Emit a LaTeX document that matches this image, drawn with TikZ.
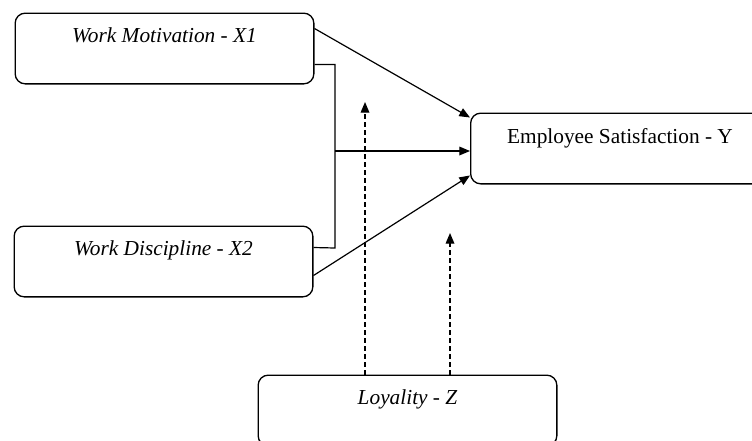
\documentclass[tikz,border=0pt]{standalone}
\usepackage{fontspec}
\setmainfont{Liberation Serif}
\usetikzlibrary{arrows.meta,calc}
\tikzset{
  box/.style={draw,line width=1pt,rounded corners=7.5pt,minimum width=224pt,minimum height=53pt,inner sep=0pt},
  lbl/.style={font=\fontsize{16}{18}\selectfont,inner sep=0pt,anchor=base},
  link/.style={line width=0.9pt,-{Triangle[length=8pt,width=6.5pt]}},
  modlink/.style={link,dash pattern=on 3.5pt off 2.5pt}
}
\begin{document}
\begin{tikzpicture}[x=0.75pt,y=-0.75pt]
\path[use as bounding box,clip] (0,0) rectangle (752,440);
\fill[white] (0,0) rectangle (752,440);

\node[box] (wm) at (164.5,48.5) {};
\node[box] (wd) at (163.5,261.5) {};
\node[box] (es) at (620,148.5) {};
\node[box] (loy) at (407.5,410.5) {};

\node[lbl] (wmtext) at ($(wm.north)+(0,30)$) {\itshape Work Motivation - X1};
\node[lbl] (wdtext) at ($(wd.north)+(0,30)$) {\itshape Work Discipline - X2};
\node[lbl] (estext) at ($(es.north)+(0,31)$) {Employee Satisfaction - Y};
\node[lbl] (loytext) at ($(loy.north)+(0,30)$) {\itshape Loyality - Z};

\coordinate (join) at (335,151);
\coordinate (tipa) at (365,102);
\coordinate (tipb) at (450,233);

\draw[link] ($(wm.north east)+(0,16)$) -- ($(es.north west)+(0,5)$);
\draw[link] ($(wd.north east)+(0,50)$) -- ($(es.south west)+(0,-9)$);
\draw[line width=0.9pt] ($(wm.south east)+(0,-20)$) -| ($(join)+(0,97)$) -- ($(wd.north east)+(0,22)$);
\draw[link] (join) -- (join -| es.west);

\draw[modlink] (tipa |- loy.north) -- (tipa);
\draw[modlink] (tipb |- loy.north) -- (tipb);
\end{tikzpicture}
\end{document}
